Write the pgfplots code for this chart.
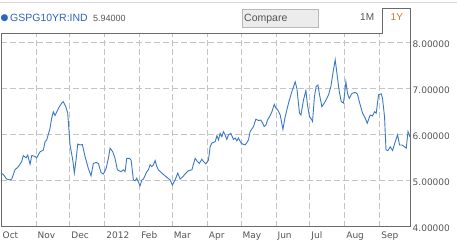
\documentclass[border=0pt]{standalone}
\usepackage{fontspec}
\setmainfont{Liberation Sans}
\newfontfamily\dejavu{DejaVu Sans}
\usepackage{pgfplots}
\pgfplotsset{compat=1.18}
\definecolor{lineblue}{HTML}{3B78C6}
\definecolor{hdrblue}{HTML}{2F62C0}
\definecolor{gridgray}{HTML}{C4C4C4}
\definecolor{tickgray}{HTML}{555555}
\definecolor{framegray}{HTML}{6A6A6A}
\definecolor{tabor}{HTML}{E0722E}
\begin{document}
\begin{tikzpicture}[x=1pt,y=1pt]
\useasboundingbox (0,0) rectangle (457,246);
\fill[white] (0,0) rectangle (457,246);
\draw[color=gray!30, line width=0.8pt] (0,244) -- (457,244);
\begin{axis}[
  at={(1pt,19.5pt)}, anchor=south west,
  scale only axis, width=409pt, height=193.5pt,
  xmin=0, xmax=363, ymin=4, ymax=8.2,
  xtick={0,31,61,92,123,152,183,213,244,274,305,336},
  xticklabels={Oct,Nov,Dec,2012,Feb,Mar,Apr,May,Jun,Jul,Aug,Sep},
  ytick={4,5,6,7,8},
  yticklabel pos=right,
  major tick length=0pt,
  grid=major,
  major grid style={color=gridgray, dash pattern=on 6pt off 3pt, line width=0.6pt},
  axis line style={color=framegray, line width=0.8pt},
  tick label style={font=\dejavu\fontsize{9}{10}\selectfont, text=tickgray},
  xticklabel style={anchor=north west, inner sep=0pt, xshift=1.5pt, yshift=-5pt},
  yticklabel style={anchor=west, inner sep=0pt, xshift=2.5pt, yshift=-2pt,
    /pgf/number format/.cd, fixed, fixed zerofill, precision=5, assume math mode=true},
]
\addplot[color=lineblue, line width=0.9pt, mark=none] coordinates {
(0,5.16) (2,5.13) (5,5.03) (8,5.01) (9.5,5.03) (12.4,5.23) (15.4,5.30) (18.4,5.41)
(19.8,5.54) (22.2,5.49) (23.7,5.55) (25.8,5.35) (27.3,5.54) (30.2,5.52) (31.7,5.49)
(34.6,5.62) (37.6,5.66) (39.1,5.84) (40.6,5.88) (43.5,6.13) (45.0,6.35) (46.4,6.49)
(48.0,6.41) (49.5,6.49) (51.8,6.60) (53.9,6.68) (55.3,6.71) (57.5,6.60) (59.2,6.46)
(61.3,5.77) (63.7,5.44) (65.1,5.16) (66.6,5.44) (68.1,5.79) (70.2,5.77) (72.2,5.78)
(74.6,5.52) (77.5,5.26) (79.9,5.10) (82.0,5.37) (84.4,5.39) (86.4,5.37) (88.8,5.17)
(90.9,5.14) (93.3,5.26) (95.3,5.48) (96.8,5.70) (99.2,5.62) (101.2,5.48) (103.3,5.23)
(104.8,5.21) (106.3,5.19) (108.6,5.23) (110.1,5.19) (111.6,5.48) (113.9,5.48) (115.5,5.44)
(117.5,5.01) (119.0,4.99) (120.5,5.05) (121.9,4.97) (123.4,4.88) (125.0,5.01) (126.4,5.03)
(129.4,5.19) (130.8,5.23) (132.3,5.34) (133.8,5.30) (135.3,5.34) (136.8,5.43) (138.3,5.30)
(139.7,5.23) (142.7,5.16) (145.6,5.10) (150.1,5.01) (152.1,4.90) (154.5,5.01) (156.9,5.16)
(159.0,5.03) (161.4,5.08) (163.4,5.14) (166.3,5.21) (169.4,5.23) (172.3,5.48) (174.3,5.41)
(176.1,5.37) (178.2,5.46) (179.7,5.41) (181.8,5.36) (184.1,5.44) (185.6,5.73) (187.1,5.81)
(190.1,5.84) (191.6,5.97) (193.0,5.88) (194.5,6.02) (196.0,5.95) (197.4,6.06) (198.9,5.99)
(200.4,5.89) (201.9,5.99) (204.0,6.02) (206.3,5.89) (207.8,5.92) (209.3,5.86) (210.7,5.92)
(212.9,5.82) (214.3,5.79) (216.7,5.77) (218.2,5.82) (219.6,5.88) (221.1,6.06) (224.1,6.17)
(226.2,6.33) (228.5,6.30) (230.6,6.31) (232.1,6.25) (233.6,6.17) (235.1,6.20) (236.5,6.31)
(238.3,6.38) (240.4,6.49) (242.5,6.65) (244.0,6.57) (245.7,6.53) (247.8,6.42) (250.2,6.11)
(252.2,6.38) (255.2,6.68) (258.2,6.93) (261.1,7.14) (262.6,7.00) (264.9,6.46) (266.2,6.42)
(268.5,6.75) (270.6,6.95) (272.0,6.64) (273.8,6.38) (275.0,6.35) (276.5,6.28) (278.2,6.82)
(279.7,7.04) (281.3,7.07) (282.7,6.86) (284.8,6.60) (287.7,6.71) (290.7,6.86) (292.8,7.04)
(294.6,7.33) (296.6,7.62) (298.1,7.33) (300.2,6.93) (302.0,6.71) (304.0,6.68) (306.1,7.14)
(307.5,6.89) (309.1,6.78) (311.5,6.89) (314.4,6.91) (316.2,6.88) (318.8,6.64) (320.9,6.46)
(323.3,6.35) (325.0,6.24) (327.7,6.42) (329.7,6.40) (331.5,6.49) (333.0,6.46) (335.1,6.86)
(337.5,6.88) (338.6,6.78) (340.4,6.38) (341.7,5.66) (343.4,5.65) (345.5,5.73) (347.5,5.65)
(349.9,5.84) (352.0,5.99) (353.7,5.77) (355.9,5.77) (358.2,5.73) (359.7,5.70) (361.2,6.06)
(362.2,6.00) (363,5.94)
};
\end{axis}
% tab "1Y" breaking the top frame
\draw[white, line width=1.2pt] (382.5,213) -- (409.6,213);
\draw[color=framegray, line width=0.8pt] (382,213) -- (382,238) -- (410,238) -- (410,213);
% header
\node[anchor=west, inner sep=0pt, text=hdrblue] at (0.5,228) {\dejavu\fontsize{9}{10}\selectfont ●};
\node[anchor=west, inner sep=0pt, text=hdrblue] at (10,228) {\fontsize{10.5}{12}\selectfont GSPG10YR:IND};
\node[anchor=west, inner sep=0pt, text=tickgray] at (93,228) {\fontsize{9}{11}\selectfont 5.94000};
\draw[fill=gray!15, draw=gray!55, line width=0.6pt] (242,219) rectangle (318,237);
\node[anchor=west, inner sep=0pt, text=tickgray] at (244,227.5) {\fontsize{10.5}{12}\selectfont Compare};
\node[anchor=west, inner sep=0pt, text=tickgray] at (360,229) {\fontsize{10}{12}\selectfont 1M};
\node[anchor=west, inner sep=0pt, text=tabor] at (390.5,229) {\fontsize{10}{12}\selectfont 1Y};
\end{tikzpicture}
\end{document}
